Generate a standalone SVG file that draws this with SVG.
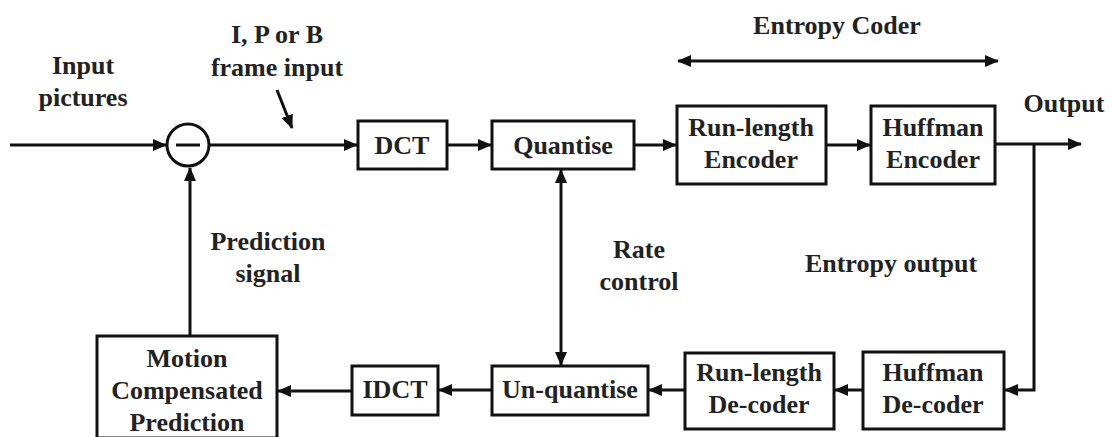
<svg xmlns="http://www.w3.org/2000/svg" width="1112" height="437" viewBox="0 0 1112 437">
<style>
.box{fill:#fff;stroke:#111;stroke-width:3}
.ln{fill:none;stroke:#111;stroke-width:3}
text{font-family:'Liberation Serif','DejaVu Serif',serif;font-weight:700;font-size:26px;fill:#222;text-anchor:middle}
</style>
<defs>
<marker id="ah" markerWidth="14" markerHeight="12" refX="13" refY="6" orient="auto-start-reverse" markerUnits="userSpaceOnUse">
<path d="M0,0 L14,6 L0,12 Z" fill="#111"/>
</marker>
</defs>
<rect width="1112" height="437" fill="#fff"/>
<g id="connectors">
<line class="ln" x1="10" y1="145" x2="166" y2="145" marker-end="url(#ah)"/>
<line class="ln" x1="209" y1="145" x2="357" y2="145" marker-end="url(#ah)"/>
<line class="ln" x1="447" y1="145" x2="491" y2="145" marker-end="url(#ah)"/>
<line class="ln" x1="634" y1="145" x2="676" y2="145" marker-end="url(#ah)"/>
<line class="ln" x1="826" y1="145" x2="870" y2="145" marker-end="url(#ah)"/>
<line class="ln" x1="995" y1="144" x2="1081" y2="144" marker-end="url(#ah)"/>
<polyline class="ln" points="1034,144 1034,390 1005,390" marker-end="url(#ah)"/>
<line class="ln" x1="863" y1="390" x2="835" y2="390" marker-end="url(#ah)"/>
<line class="ln" x1="685" y1="390" x2="649" y2="390" marker-end="url(#ah)"/>
<line class="ln" x1="492" y1="390" x2="439" y2="390" marker-end="url(#ah)"/>
<line class="ln" x1="352" y1="391" x2="278" y2="391" marker-end="url(#ah)"/>
<line class="ln" x1="190" y1="336" x2="190" y2="168" marker-end="url(#ah)"/>
<line class="ln" x1="561" y1="170" x2="561" y2="365" marker-start="url(#ah)" marker-end="url(#ah)"/>
<line class="ln" x1="678" y1="61" x2="998" y2="61" marker-start="url(#ah)" marker-end="url(#ah)"/>
<line class="ln" x1="277" y1="90" x2="292" y2="128" marker-end="url(#ah)"/>
</g>
<g id="subtract">
<circle cx="188" cy="145" r="21" class="ln"/>
<line class="ln" x1="176" y1="145" x2="200" y2="145"/>
</g>
<g id="dct"><rect class="box" x="358" y="121" width="89" height="48"/><text x="402" y="154">DCT</text></g>
<g id="quantise"><rect class="box" x="492" y="121" width="142" height="48"/><text x="563" y="154">Quantise</text></g>
<g id="rl-encoder"><rect class="box" x="677" y="106" width="149" height="78"/><text x="751" y="136">Run-length</text><text x="751" y="168">Encoder</text></g>
<g id="huff-encoder"><rect class="box" x="871" y="106" width="124" height="78"/><text x="933" y="136">Huffman</text><text x="933" y="168">Encoder</text></g>
<g id="huff-decoder"><rect class="box" x="863" y="352" width="141" height="77"/><text x="933" y="381">Huffman</text><text x="933" y="413">De-coder</text></g>
<g id="rl-decoder"><rect class="box" x="685" y="353" width="149" height="76"/><text x="759" y="381">Run-length</text><text x="759" y="413">De-coder</text></g>
<g id="unquantise"><rect class="box" x="492" y="366" width="156" height="49"/><text x="570" y="398">Un-quantise</text></g>
<g id="idct"><rect class="box" x="352" y="366" width="86" height="49"/><text x="395" y="398">IDCT</text></g>
<g id="mcp"><rect class="box" x="97" y="336" width="180" height="102"/><text x="187" y="367">Motion</text><text x="187" y="399">Compensated</text><text x="187" y="431">Prediction</text></g>
<g id="labels">
<text x="83" y="74">Input</text>
<text x="83" y="106">pictures</text>
<text x="277" y="43">I, P or B</text>
<text x="277" y="76">frame input</text>
<text x="837" y="34">Entropy Coder</text>
<text x="1064" y="112">Output</text>
<text x="268" y="250">Prediction</text>
<text x="268" y="282">signal</text>
<text x="639" y="258">Rate</text>
<text x="639" y="290">control</text>
<text x="891" y="272">Entropy output</text>
</g>
</svg>
